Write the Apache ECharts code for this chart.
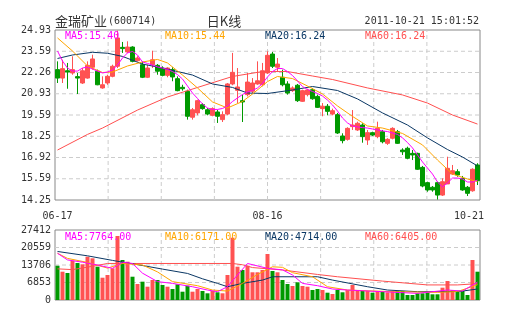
<!DOCTYPE html>
<html><head><meta charset="utf-8">
<script src="https://cdn.jsdelivr.net/npm/echarts@6/dist/echarts.min.js"></script>
<style>html,body{margin:0;padding:0;background:#fff}#c{width:505px;height:330px}</style>
</head><body><div id="c"></div>
<script>
const dates = ['06-17','06-20','06-21','06-22','06-23','06-24','06-27','06-28','06-29','06-30',
'07-01','07-04','07-05','07-06','07-07','07-08','07-11','07-12','07-13','07-14','07-15','07-18','07-19','07-20','07-21','07-22','07-25','07-26','07-27','07-28','07-29',
'08-01','08-02','08-03','08-04','08-05','08-08','08-09','08-10','08-11','08-12','08-15','08-16','08-17','08-18','08-19','08-22','08-23','08-24','08-25','08-26','08-29','08-30','08-31',
'09-01','09-02','09-05','09-06','09-07','09-08','09-09','09-13','09-14','09-15','09-16','09-19','09-20','09-21','09-22','09-23','09-26','09-27','09-28','09-29','09-30',
'10-10','10-11','10-12','10-13','10-14','10-17','10-18','10-19','10-20','10-21'];
const shownDates = ['06-17','08-16','10-21'];

const opens = [22.44,21.91,22.37,22.23,22.00,21.60,21.91,22.59,22.34,21.29,
21.60,22.02,22.65,23.84,23.55,23.86,23.00,22.75,21.96,22.75,
22.71,22.54,22.08,22.44,21.87,21.33,21.08,19.45,19.72,20.24,
19.92,19.57,19.78,19.30,19.65,21.54,21.14,20.49,20.87,21.08,
21.54,21.49,22.23,23.42,22.59,21.96,21.54,21.12,21.46,20.45,
20.87,21.18,20.76,19.99,20.14,19.65,19.61,18.27,18.06,18.86,
18.65,18.96,18.02,18.48,18.23,18.54,17.81,18.13,18.54,17.39,
17.50,17.18,17.18,16.30,15.34,15.05,15.34,14.56,15.26,15.88,
16.03,15.61,15.05,14.83,16.45];
const closes = [21.91,22.50,22.29,22.44,21.91,22.37,22.71,23.11,21.49,21.49,
22.02,22.65,24.43,23.76,23.86,22.96,23.17,21.96,22.54,23.06,
22.34,22.08,22.54,21.98,21.12,21.24,19.51,19.92,20.49,19.99,
19.65,19.99,19.51,19.61,21.54,22.27,21.35,20.41,21.66,21.60,
21.74,22.37,23.34,22.65,22.79,21.49,20.97,21.29,20.49,21.12,
21.16,20.61,20.07,20.14,19.82,19.86,18.46,17.98,18.75,18.96,
19.07,18.23,18.48,18.33,18.75,17.91,18.06,18.75,17.81,17.28,
16.87,17.08,16.18,15.13,14.88,14.88,14.56,15.40,16.24,16.09,
15.82,14.88,14.67,16.18,15.46];
const lows = [21.60,21.60,21.24,22.12,20.91,21.54,21.87,22.44,21.46,21.24,
21.49,21.96,22.54,23.49,23.49,22.90,22.96,21.91,21.91,22.54,
22.12,22.02,21.96,21.71,21.08,21.12,19.30,19.30,19.57,19.92,
19.57,19.51,19.09,19.15,19.57,21.46,20.34,19.15,20.76,20.97,
21.49,21.39,22.17,22.54,22.34,21.39,20.87,21.04,20.41,20.41,
20.76,20.55,20.03,19.51,19.57,19.57,18.40,17.81,17.98,18.65,
18.59,17.85,17.71,18.27,18.13,17.81,17.71,18.06,17.77,17.08,
16.81,16.76,16.14,15.05,14.77,14.77,14.28,14.50,15.26,15.82,
15.71,14.83,14.50,14.77,15.19];
const highs = [22.96,23.06,22.86,23.28,22.23,22.54,22.96,23.38,22.44,22.02,
22.12,22.75,24.89,24.18,24.22,23.91,23.28,22.96,22.75,23.63,
22.79,22.65,22.59,22.59,22.02,21.49,21.18,20.03,20.55,20.34,
20.03,20.07,19.92,19.82,21.60,23.49,22.54,20.87,22.23,21.91,
22.96,22.86,23.59,23.55,23.17,22.44,21.71,21.39,21.54,21.18,
21.24,21.29,20.87,20.34,20.28,19.99,19.72,18.44,18.82,19.90,
19.17,19.07,18.65,18.54,19.17,18.65,18.13,18.82,18.65,17.50,
17.60,17.39,17.22,16.39,15.40,15.13,15.40,15.61,16.97,16.45,
16.18,15.76,15.13,16.24,16.56];

const ma5 = [23.61,22.98,22.54,22.35,22.35,22.54,22.61,22.48,22.35,22.23,
22.29,22.42,22.73,23.17,23.49,23.58,23.36,22.92,22.83,22.73,
22.61,22.54,22.45,22.32,22.13,21.85,21.41,20.97,20.63,20.28,
20.03,19.94,19.94,20.00,20.16,20.44,20.66,20.88,21.04,21.13,
21.29,21.57,21.98,22.32,22.51,22.51,22.32,22.07,21.73,21.38,
21.19,21.07,20.94,20.78,20.53,20.22,19.84,19.40,19.09,18.90,
18.84,18.80,18.77,18.71,18.65,18.59,18.55,18.46,18.37,18.15,
17.86,17.52,17.08,16.64,16.26,15.88,15.38,15.07,15.32,15.63,
15.63,15.57,15.38,15.38,15.50];
const ma10 = [[0,24.43],[3,23.61],[6,22.67],[9,22.26],[11,22.29],[14,22.67],[17,22.92],[20,23.08],[22,22.86],[25,22.10],[28,21.29],[31,20.41],[34,20.03],[37,20.44],[39,20.91],[42,21.69],[44,22.01],[47,21.88],[50,21.41],[53,20.91],[56,20.16],[59,19.50],[62,18.90],[65,18.77],[69,18.43],[73,17.71],[76,16.76],[79,15.88],[82,15.57],[84,15.41]];
const ma20 = [[0,23.14],[3,23.36],[7,23.53],[10,23.47],[13,23.27],[17,22.79],[21,22.54],[27,22.10],[31,21.54],[35,21.32],[38,20.97],[42,20.94],[47,21.16],[51,21.38],[56,21.13],[60,20.60],[65,19.72],[70,18.96],[74,18.15],[78,17.42],[81,16.95],[84,16.39]];
const ma60 = [[0,17.39],[6,18.37],[9,18.77],[16,19.90],[22,20.72],[28,21.32],[35,22.01],[41,22.32],[46,22.32],[51,22.04],[55,21.82],[62,21.29],[69,20.85],[74,20.34],[79,19.59],[84,19.02]];

const volumes = [13430,11080,10570,15390,14490,13980,16960,16330,13040,8730,
9790,12410,25060,15660,15000,9120,6270,7170,5210,7830,
7830,5870,5210,4310,6150,3250,5600,3250,4310,3520,
2620,3520,3020,2620,9790,24400,13040,11750,13430,10850,
10850,11750,18010,11360,10850,7830,6270,5480,6930,5480,
5210,3920,4310,3920,2860,2350,3920,3020,3920,5870,
3920,3520,3520,2860,3520,3250,3020,3520,3520,3520,
1960,1960,2620,2620,3020,2230,2230,4820,7440,3920,
3520,3520,1960,15660,11080];
const vma5 = [[0,18300],[2,15700],[5,14800],[8,13700],[11,12400],[13,14800],[15,14300],[17,10500],[20,7200],[23,6500],[27,5200],[30,3900],[32,3250],[34,5200],[36,9800],[38,14300],[42,12400],[45,11800],[47,9800],[49,6500],[52,5600],[55,4300],[58,3900],[65,3250],[72,2600],[78,3900],[81,3500],[84,7000]];
const vma10 = [[0,18300],[2,16300],[6,14700],[10,12500],[13,14300],[17,13700],[20,11000],[23,7200],[28,5600],[31,3900],[34,3500],[37,6500],[40,10000],[43,13000],[45,12800],[47,10700],[51,9100],[54,5200],[58,3900],[67,3250],[76,3000],[80,3300],[84,6000]];
const vma20 = [[0,19000],[6,17300],[11,15500],[17,13500],[21,12100],[26,10400],[29,8300],[32,6500],[34,5200],[37,6500],[41,7800],[43,9100],[52,9100],[55,7800],[62,5200],[66,3900],[72,3250],[78,3250],[81,3500],[84,4300]];
const vma60 = [[0,12200],[3,11900],[7,13200],[10,14300],[35,14300],[37,13800],[39,12700],[45,11750],[52,10000],[56,9100],[65,7400],[74,5900],[80,5900],[84,6400]];

const priceMin = 14.25, priceMax = 24.93, priceStep = 1.335, priceDivisions = 8;
const volMax = 27412, volStep = 6853, volDivisions = 4;
const vDivisions = 8;
const headerTitle = '金瑞矿业', headerCode = '(600714)', headerKind = '日K线', headerTime = '2011-10-21 15:01:52';
const priceLegend = ['MA5:15.40','MA10:15.44','MA20:16.24','MA60:16.24'];
const volLegend = ['MA5:7764.00','MA10:6171.00','MA20:4714.00','MA60:6405.00'];

const UP = '#ff5252', DOWN = '#009900';
const C5 = '#ff00ff', C10 = '#ffa500', C20 = '#0a3764', C60 = '#ff4f4f';
const legendColors = [C5, C10, C20, C60];
const MONO = '"DejaVu Sans Mono", "Liberation Mono", monospace';
const CJK = '"Noto Sans CJK SC", sans-serif';
const GRID_COLOR = '#cccccc';

const chart = echarts.init(document.getElementById('c'), null, {renderer:'canvas'});

function txt(text, x, y, font, fill, align) {
  return {type:'text', x:x, y:y, z:100, silent:true,
    style:{text:text, font:font, fill:fill, align:align||'left', textAlign:align||'left', verticalAlign:'middle', textVerticalAlign:'middle'}};
}
const graphics = [
  txt(headerTitle, 55, 21, '13px ' + CJK, '#333'),
  txt(headerCode, 108, 21, '10px ' + MONO, '#333'),
  txt(headerKind, 224, 21, '13px ' + CJK, '#333', 'center'),
  txt(headerTime, 479, 21, '10px ' + MONO, '#333', 'right')
];
priceLegend.forEach((t, k) => graphics.push(txt(t, 65 + 100 * k, 36.5, '10px ' + MONO, legendColors[k])));
volLegend.forEach((t, k) => graphics.push(txt(t, 65 + 100 * k, 237, '10px ' + MONO, legendColors[k])));

const lineS = (name, data, color, xi, yi) => ({name, type:'line', data, xAxisIndex:xi, yAxisIndex:yi,
  symbol:'none', showSymbol:false, smooth:false, lineStyle:{color, width:1}, itemStyle:{color}, z:5, silent:true});

const hiddenCat = (gi) => ({type:'category', gridIndex:gi, data:dates, boundaryGap:true, position:'bottom',
  axisLine:{show:false}, axisTick:{show:false}, splitLine:{show:false}, axisLabel:{show:false}});
const vGrid = (gi) => ({type:'value', gridIndex:gi, min:0, max:vDivisions, interval:1, position:'top',
  axisLine:{show:false}, axisTick:{show:false}, axisLabel:{show:false}, splitLine:{show:false}});

const xMain = hiddenCat(0);
xMain.axisLabel = {show:true, interval:(i) => shownDates.indexOf(dates[i]) >= 0,
  fontFamily:MONO, fontSize:10, color:'#333', margin:11,
  formatter:(v) => v === dates[dates.length-1] ? '{r|' + v + '}' : v,
  rich:{r:{fontFamily:MONO, fontSize:10, color:'#333', padding:[0,17,0,0]}}};

// dashed grid lines at the axes' tick values, each drawn as a line series through the axes
function gridSeries(xi, yi, yMin, yStep, yDivs) {
  const out = [];
  const yTop = yMin + yDivs * yStep;
  const mk = (data) => ({type:'line', xAxisIndex:xi, yAxisIndex:yi, data:data, silent:true,
    symbol:'none', showSymbol:false, z:2, animation:false,
    lineStyle:{color:GRID_COLOR, width:1, type:[4,3]}});
  for (let k = 1; k < vDivisions; k++) out.push(mk([[k, yMin], [k, yTop]]));
  for (let k = 1; k < yDivs; k++) out.push(mk([[0, yMin + k * yStep], [vDivisions, yMin + k * yStep]]));
  return out;
}

chart.setOption({
  animation:false,
  backgroundColor:'#fff',
  graphic:graphics,
  grid:[
    {left:55, top:30, width:425, height:170, show:true, borderColor:'#888', borderWidth:1},
    {left:55, top:230, width:425, height:70, show:true, borderColor:'#888', borderWidth:1}
  ],
  xAxis:[xMain, vGrid(0), hiddenCat(1), vGrid(1)],
  yAxis:[
    {type:'value', gridIndex:0, min:priceMin, max:priceMax, interval:priceStep,
      axisLine:{show:false}, axisTick:{show:false},
      axisLabel:{fontFamily:MONO, fontSize:10, color:'#333', margin:4, formatter:(v) => v.toFixed(2)},
      splitLine:{show:false}},
    {type:'value', gridIndex:1, min:0, max:volMax, interval:volStep,
      axisLine:{show:false}, axisTick:{show:false},
      axisLabel:{fontFamily:MONO, fontSize:10, color:'#333', margin:4, formatter:(v) => String(Math.round(v))},
      splitLine:{show:false}}
  ],
  series:[].concat(
    gridSeries(1, 0, priceMin, priceStep, priceDivisions),
    gridSeries(3, 1, 0, volStep, volDivisions),
    [
    {type:'candlestick', xAxisIndex:0, yAxisIndex:0, barWidth:3.6, silent:true, z:3,
      data:dates.map((d,i) => [opens[i], closes[i], lows[i], highs[i]]),
      itemStyle:{color:UP, color0:DOWN, borderColor:UP, borderColor0:DOWN, borderWidth:1}},
    lineS('MA60', ma60, C60, 0, 0),
    lineS('MA20', ma20, C20, 0, 0),
    lineS('MA10', ma10, C10, 0, 0),
    lineS('MA5', ma5, C5, 0, 0),
    {type:'bar', xAxisIndex:2, yAxisIndex:1, barWidth:4, silent:true, z:3,
      data:volumes.map((v,i) => ({value:v, itemStyle:{color: closes[i] >= opens[i] ? UP : DOWN}}))},
    lineS('VMA60', vma60, C60, 2, 1),
    lineS('VMA20', vma20, C20, 2, 1),
    lineS('VMA10', vma10, C10, 2, 1),
    lineS('VMA5', vma5, C5, 2, 1)
    ])
});
</script></body></html>
